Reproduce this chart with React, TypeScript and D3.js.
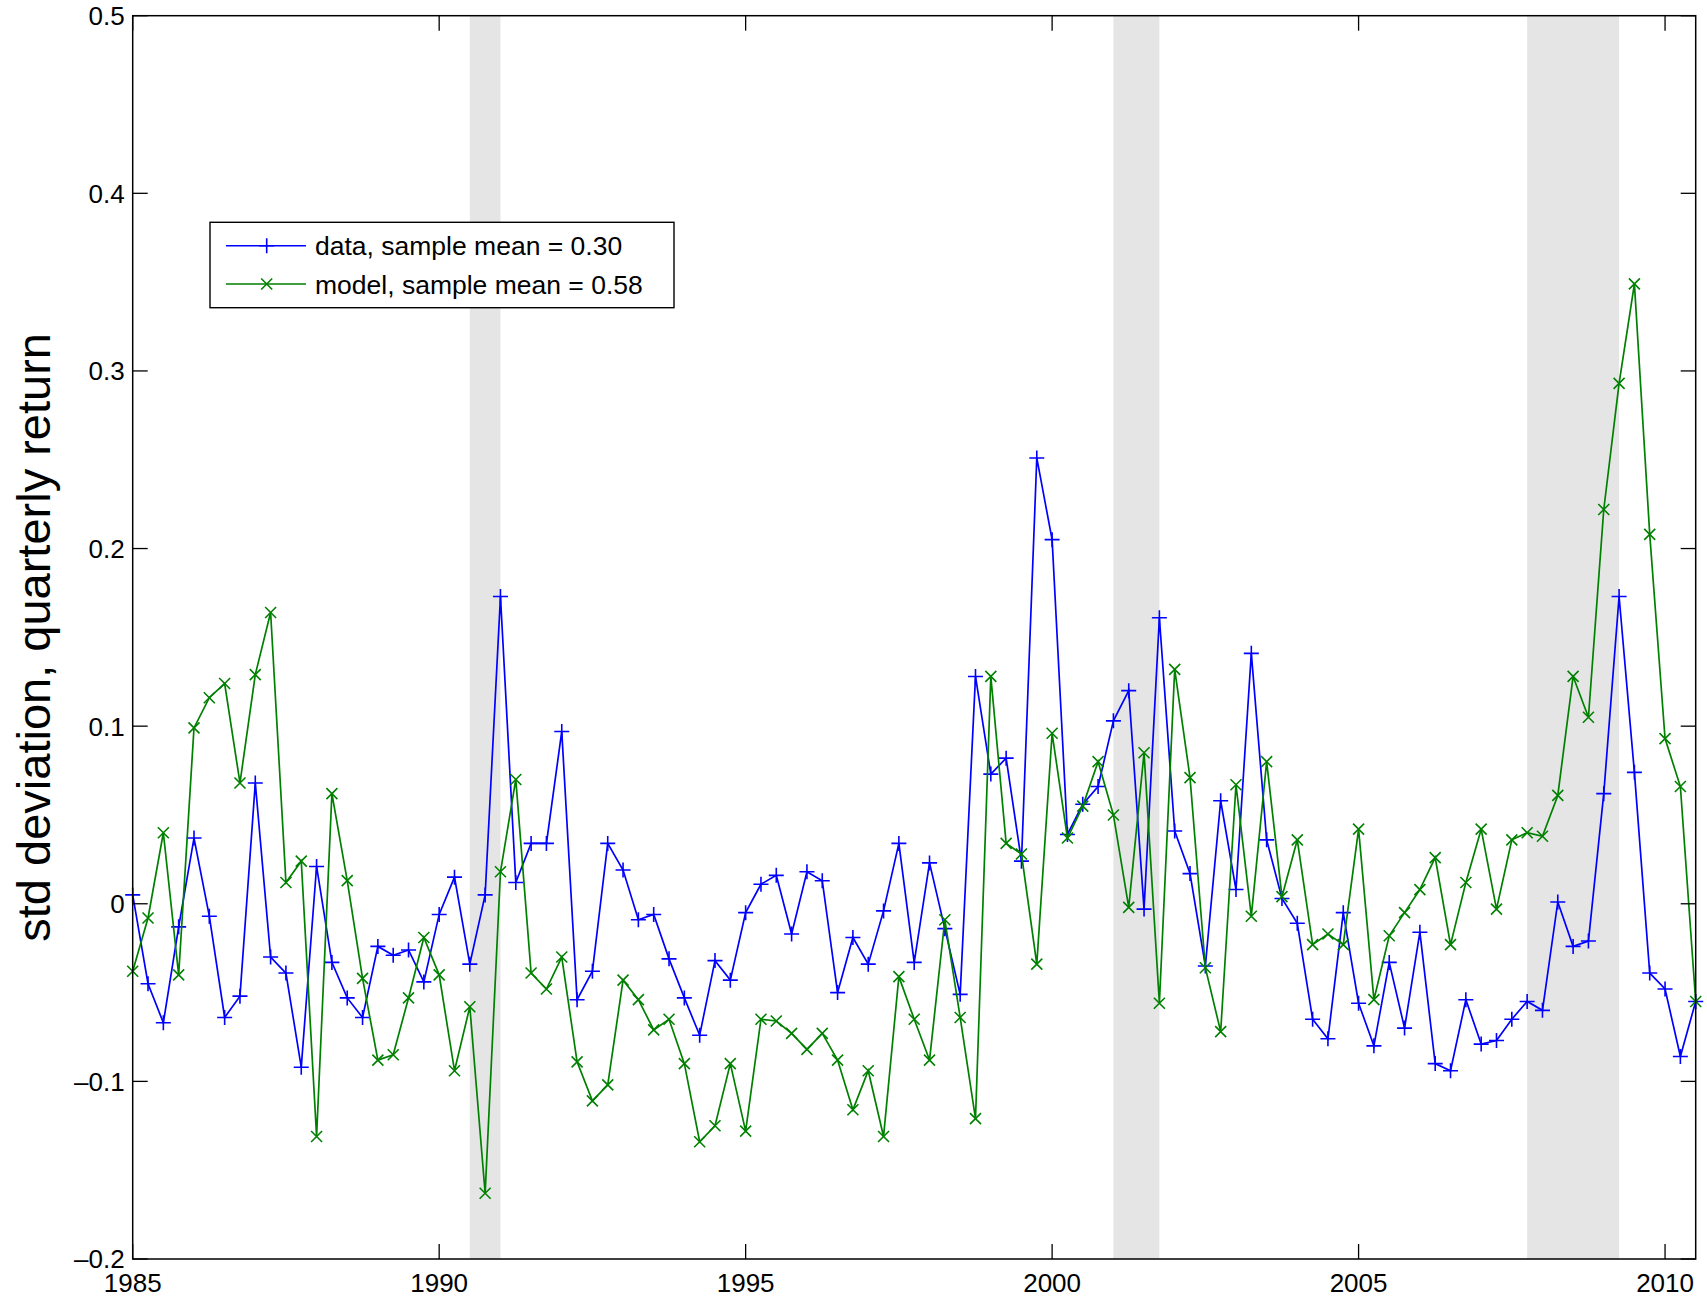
// @ts-nocheck
import { useEffect, useRef } from 'react';
import * as d3 from 'd3';

// quarterly observations, 1985Q1 .. 2010Q3
const startYear = 1985;
const stepYears = 0.25;

const dataSeries = [
  0.005, -0.045, -0.067, -0.013, 0.037, -0.007, -0.064, -0.052, 0.068, -0.030,
  -0.039, -0.092, 0.021, -0.033, -0.053, -0.064, -0.024, -0.029, -0.026, -0.044,
  -0.006, 0.015, -0.034, 0.005, 0.173, 0.012, 0.034, 0.034, 0.097, -0.054,
  -0.038, 0.034, 0.019, -0.009, -0.006, -0.031, -0.053, -0.074, -0.032, -0.043,
  -0.005, 0.011, 0.016, -0.017, 0.018, 0.013, -0.050, -0.019, -0.034, -0.004,
  0.034, -0.033, 0.023, -0.014, -0.051, 0.128, 0.073, 0.082, 0.024, 0.251,
  0.205, 0.039, 0.056, 0.066, 0.103, 0.120, -0.003, 0.161, 0.041, 0.017,
  -0.035, 0.058, 0.008, 0.141, 0.036, 0.003, -0.011, -0.065, -0.076, -0.005,
  -0.056, -0.080, -0.033, -0.070, -0.016, -0.090, -0.094, -0.054, -0.079, -0.077,
  -0.065, -0.055, -0.060, 0.001, -0.024, -0.021, 0.062, 0.173, 0.074, -0.039,
  -0.048, -0.086, -0.055
];

const modelSeries = [
  -0.038, -0.008, 0.040, -0.040, 0.099, 0.116, 0.124, 0.068, 0.129, 0.164,
  0.012, 0.024, -0.131, 0.062, 0.013, -0.042, -0.088, -0.085, -0.053, -0.019,
  -0.040, -0.094, -0.058, -0.163, 0.018, 0.070, -0.039, -0.048, -0.030, -0.089,
  -0.111, -0.102, -0.043, -0.054, -0.071, -0.065, -0.090, -0.134, -0.125, -0.090,
  -0.128, -0.065, -0.066, -0.073, -0.082, -0.073, -0.088, -0.116, -0.094, -0.131,
  -0.041, -0.065, -0.088, -0.009, -0.064, -0.121, 0.128, 0.034, 0.028, -0.034,
  0.096, 0.037, 0.055, 0.080, 0.050, -0.002, 0.085, -0.056, 0.132, 0.071,
  -0.036, -0.072, 0.067, -0.007, 0.080, 0.004, 0.036, -0.023, -0.017, -0.023,
  0.042, -0.054, -0.018, -0.005, 0.008, 0.026, -0.023, 0.012, 0.042, -0.003,
  0.036, 0.040, 0.038, 0.061, 0.128, 0.105, 0.222, 0.293, 0.349, 0.208,
  0.093, 0.066, -0.055
];

// NBER recessions (shaded)
const recessions = [
  [1990.5, 1991.0],
  [2001.0, 2001.75],
  [2007.75, 2009.25]
];

const xTicks = [1985, 1990, 1995, 2000, 2005, 2010];
const yTicks = [-0.2, -0.1, 0, 0.1, 0.2, 0.3, 0.4, 0.5];

const legendLabels = ['data, sample mean = 0.30', 'model, sample mean = 0.58'];
const yLabel = 'std deviation, quarterly return';

const FONT = '"Liberation Sans", Arial, Helvetica, sans-serif';

const App = () => {
  const svgRef = useRef();

  useEffect(() => {
    const svg = d3.select(svgRef.current);
    svg.selectAll('*').remove();

    const left = 132.7, right = 1695.7, top = 15.7, bottom = 1259;

    const x = d3.scaleLinear().domain([1985, 2010.5]).range([left, right]);
    const y = d3.scaleLinear().domain([-0.2, 0.5]).range([bottom, top]);

    const dates = dataSeries.map((_, i) => startYear + i * stepYears);

    svg.append('rect')
      .attr('width', 1707).attr('height', 1299).attr('fill', 'white');

    // recession bands
    svg.selectAll('rect.band')
      .data(recessions)
      .enter()
      .append('rect')
      .attr('class', 'band')
      .attr('x', d => x(d[0]))
      .attr('y', top)
      .attr('width', d => x(d[1]) - x(d[0]))
      .attr('height', bottom - top)
      .attr('fill', '#e5e5e5');

    const line = d3.line()
      .x((d, i) => x(dates[i]))
      .y(d => y(d));

    const plus = (g, color, r) => {
      g.append('path')
        .attr('d', `M${-r},0H${r}M0,${-r}V${r}`)
        .attr('stroke', color)
        .attr('stroke-width', 1.6)
        .attr('fill', 'none');
    };
    const cross = (g, color, r) => {
      g.append('path')
        .attr('d', `M${-r},${-r}L${r},${r}M${-r},${r}L${r},${-r}`)
        .attr('stroke', color)
        .attr('stroke-width', 1.6)
        .attr('fill', 'none');
    };

    // data series (blue, +)
    svg.append('path')
      .datum(dataSeries)
      .attr('d', line)
      .attr('fill', 'none')
      .attr('stroke', '#0000ff')
      .attr('stroke-width', 1.7);
    dataSeries.forEach((v, i) => {
      const g = svg.append('g').attr('transform', `translate(${x(dates[i])},${y(v)})`);
      plus(g, '#0000ff', 7.5);
    });

    // model series (green, x)
    svg.append('path')
      .datum(modelSeries)
      .attr('d', line)
      .attr('fill', 'none')
      .attr('stroke', '#008000')
      .attr('stroke-width', 1.7);
    modelSeries.forEach((v, i) => {
      const g = svg.append('g').attr('transform', `translate(${x(dates[i])},${y(v)})`);
      cross(g, '#008000', 5.5);
    });

    // frame
    svg.append('rect')
      .attr('x', left).attr('y', top)
      .attr('width', right - left).attr('height', bottom - top)
      .attr('fill', 'none')
      .attr('stroke', 'black')
      .attr('stroke-width', 1.5);

    const tickLen = 15;

    // y ticks (inward, both sides)
    yTicks.forEach(t => {
      const yy = y(t);
      svg.append('line').attr('x1', left).attr('x2', left + tickLen)
        .attr('y1', yy).attr('y2', yy).attr('stroke', 'black').attr('stroke-width', 1.3);
      svg.append('line').attr('x1', right - tickLen).attr('x2', right)
        .attr('y1', yy).attr('y2', yy).attr('stroke', 'black').attr('stroke-width', 1.3);
      const label = t === 0 ? '0' : (t < 0 ? '\u2013' : '') + Math.abs(t).toFixed(1);
      svg.append('text')
        .attr('x', left - 8)
        .attr('y', yy)
        .attr('dy', '0.36em')
        .attr('text-anchor', 'end')
        .style('font-family', FONT)
        .style('font-size', '26px')
        .text(label);
    });

    // x ticks (inward, top and bottom)
    xTicks.forEach(t => {
      const xx = x(t);
      svg.append('line').attr('x1', xx).attr('x2', xx)
        .attr('y1', bottom).attr('y2', bottom - tickLen).attr('stroke', 'black').attr('stroke-width', 1.3);
      svg.append('line').attr('x1', xx).attr('x2', xx)
        .attr('y1', top).attr('y2', top + tickLen).attr('stroke', 'black').attr('stroke-width', 1.3);
      svg.append('text')
        .attr('x', xx)
        .attr('y', bottom + 33)
        .attr('text-anchor', 'middle')
        .style('font-family', FONT)
        .style('font-size', '26px')
        .text(t);
    });

    // y axis label
    svg.append('text')
      .attr('transform', `translate(50,${(top + bottom) / 2}) rotate(-90)`)
      .attr('text-anchor', 'middle')
      .style('font-family', FONT)
      .style('font-size', '47px')
      .text(yLabel);

    // legend
    const lg = svg.append('g');
    lg.append('rect')
      .attr('x', 210).attr('y', 222.3)
      .attr('width', 464).attr('height', 85.4)
      .attr('fill', 'white')
      .attr('stroke', 'black')
      .attr('stroke-width', 1.4);

    const rows = [
      { label: legendLabels[0], color: '#0000ff', marker: plus, r: 7.5, y: 245.7 },
      { label: legendLabels[1], color: '#008000', marker: cross, r: 5.5, y: 284 }
    ];
    rows.forEach(row => {
      lg.append('line')
        .attr('x1', 226).attr('x2', 306)
        .attr('y1', row.y).attr('y2', row.y)
        .attr('stroke', row.color).attr('stroke-width', 1.4);
      const m = lg.append('g').attr('transform', `translate(266.7,${row.y})`);
      row.marker(m, row.color, row.r);
      lg.append('text')
        .attr('x', 315)
        .attr('y', row.y + 9.7)
        .style('font-family', FONT)
        .style('font-size', '26.5px')
        .text(row.label);
    });
  }, []);

  return (
    <svg
      ref={svgRef}
      width={1707}
      height={1299}
      style={{ position: 'absolute', left: 0, top: 0 }}
    ></svg>
  );
};

export default App;
